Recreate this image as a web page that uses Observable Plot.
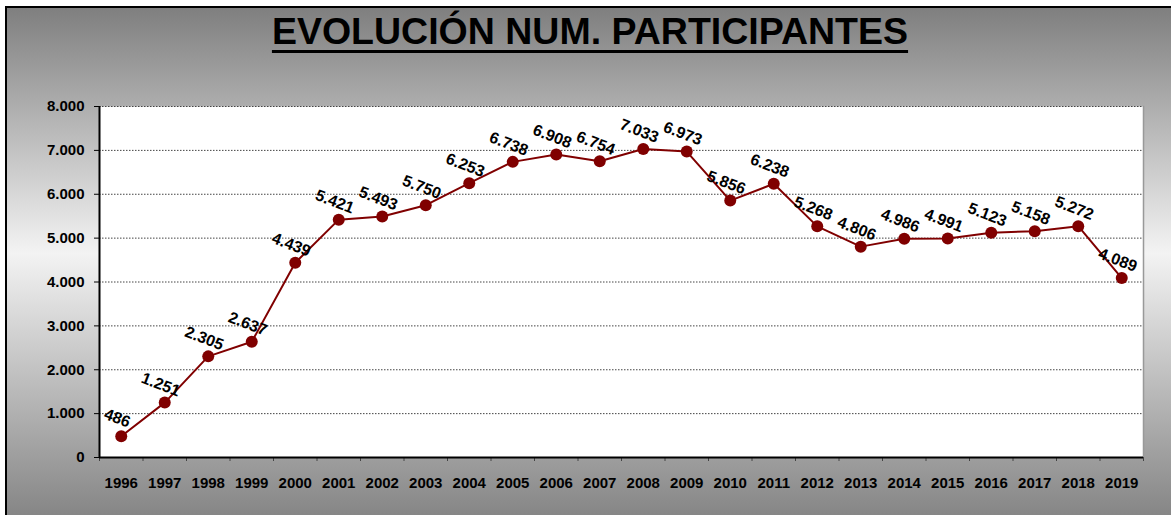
<!DOCTYPE html>
<html>
<head>
<meta charset="utf-8">
<script src="https://cdn.jsdelivr.net/npm/d3@7"></script>
<script src="https://cdn.jsdelivr.net/npm/@observablehq/plot@0.6"></script>
<style>
  body { margin: 0; width: 1171px; height: 515px; overflow: hidden; background: #fff; position: relative; }
  #bg { position: absolute; left: 5px; top: 6px; width: 1200px; height: 540px; border: 2px solid #000;
        background: linear-gradient(to bottom, #7f7f7f 0px, #f3f3f3 245px, #858585 509px, #858585 540px); }
  #title { position: absolute; left: 0; top: 13px; width: 1180px; text-align: center;
           font: bold 37.5px "Liberation Sans", Arial, sans-serif; line-height: 1; color: #000;
           text-decoration: underline; text-decoration-thickness: 3px; text-underline-offset: 6px; }
  #chart { position: absolute; left: 0; top: 60px; }
</style>
</head>
<body>
<div id="bg"></div>
<div id="title">EVOLUCIÓN NUM. PARTICIPANTES</div>
<div id="chart"></div>
<script>
const years = [1996,1997,1998,1999,2000,2001,2002,2003,2004,2005,2006,2007,2008,2009,2010,2011,2012,2013,2014,2015,2016,2017,2018,2019];
const participants = [486,1251,2305,2637,4439,5421,5493,5750,6253,6738,6908,6754,7033,6973,5856,6238,5268,4806,4986,4991,5123,5158,5272,4089];
const yTicks = [0,1000,2000,3000,4000,5000,6000,7000,8000];

const data = years.map((y, i) => ({year: y, value: participants[i]}));
const boundaries = [years[0] - 0.5, ...years.map(y => y + 0.5)];
const fmt = d3.formatLocale({decimal: ",", thousands: ".", grouping: [3], currency: ["", "€"]}).format(",");

const chart = Plot.plot({
  width: 1171,
  height: 455,
  marginLeft: 99,
  marginRight: 28,
  marginTop: 46,
  marginBottom: 58,
  style: {fontFamily: "'Liberation Sans', Arial, sans-serif", fontSize: "15px", fontWeight: "bold", color: "#000", background: "transparent", overflow: "visible"},
  x: {domain: [years[0] - 0.5, years[years.length - 1] + 0.5]},
  y: {domain: [0, 8000]},
  marks: [
    Plot.frame({fill: "white", stroke: "none"}),
    Plot.frame({anchor: "right", stroke: "#999", strokeWidth: 1.5}),
    Plot.ruleY(yTicks.filter(d => d > 0), {stroke: "#444", strokeDasharray: "1.5,1.5", strokeWidth: 1}),
    Plot.axisY({ticks: yTicks, tickFormat: fmt, tickSize: 5, tickPadding: 10, label: null, stroke: "#000", fontSize: 15}),
    Plot.axisX({ticks: years, tickFormat: d => String(d), tickSize: 0, tickPadding: 20, label: null, fontSize: 15}),
    Plot.axisX({ticks: boundaries, tickFormat: null, text: null, tickSize: 4, label: null, stroke: "#444"}),
    Plot.ruleX([years[0] - 0.5], {stroke: "#000", strokeWidth: 2}),
    Plot.ruleY([0], {stroke: "#000", strokeWidth: 2}),
    Plot.line(data, {x: "year", y: "value", stroke: "#800000", strokeWidth: 2}),
    Plot.dot(data, {x: "year", y: "value", r: 6, fill: "#800000", stroke: "none"}),
    Plot.text(data, {x: "year", y: "value", text: d => fmt(d.value), rotate: 21, dx: -4, dy: -18,
                     fontSize: 16, fontWeight: "bold", fill: "#000"})
  ]
});
document.getElementById("chart").appendChild(chart);
</script>
</body>
</html>
